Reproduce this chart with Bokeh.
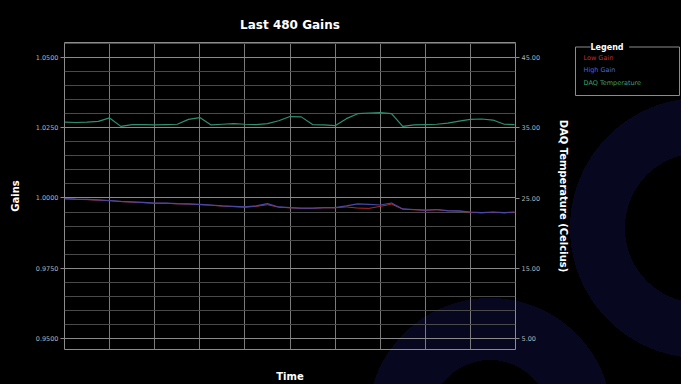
from bokeh.plotting import figure
from bokeh.models import (LinearAxis, Range1d, FixedTicker, PrintfTickFormatter,
                          Label, Row)
from bokeh.embed import file_html
from bokeh.resources import INLINE

# sample index (every 12 samples of the last 480)
samples = [0, 12, 24, 36, 48, 60, 72, 84, 96, 108, 120, 132, 144, 156, 168, 180,
           192, 204, 216, 228, 240, 252, 264, 276, 288, 300, 312, 324, 336, 348,
           360, 372, 384, 396, 408, 420, 432, 444, 456, 468, 479]

high_gain = [0.9998, 0.9996, 0.9995, 0.9993, 0.9991, 0.9988, 0.9986, 0.9984, 0.9982,
             0.9982, 0.9980, 0.9979, 0.9977, 0.9975, 0.9972, 0.9970, 0.9968, 0.9972,
             0.9980, 0.9968, 0.9966, 0.9964, 0.9964, 0.9966, 0.9966, 0.9972, 0.9979,
             0.9977, 0.9975, 0.9982, 0.9961, 0.9959, 0.9957, 0.9959, 0.9955, 0.9954,
             0.9950, 0.9948, 0.9950, 0.9948, 0.9950]

low_gain = [0.9997, 0.9995, 0.9994, 0.9992, 0.9990, 0.9987, 0.9985, 0.9983, 0.9981,
            0.9981, 0.9979, 0.9978, 0.9976, 0.9974, 0.9971, 0.9969, 0.9967, 0.9970,
            0.9976, 0.9967, 0.9965, 0.9963, 0.9963, 0.9965, 0.9965, 0.9968, 0.9964,
            0.9963, 0.9970, 0.9978, 0.9960, 0.9958, 0.9956, 0.9958, 0.9954, 0.9953,
            0.9949, 0.9947, 0.9949, 0.9947, 0.9949]

daq_temp = [35.8, 35.75, 35.8, 35.9, 36.4, 35.2, 35.45, 35.45, 35.4, 35.45, 35.5,
            36.2, 36.45, 35.4, 35.5, 35.6, 35.5, 35.45, 35.6, 36.0, 36.6, 36.55,
            35.45, 35.4, 35.3, 36.3, 37.0, 37.1, 37.15, 37.0, 35.2, 35.4, 35.45,
            35.5, 35.65, 35.95, 36.2, 36.25, 36.1, 35.5, 35.45]

gain_ticks = [0.95, 0.975, 1.0, 1.025, 1.05]
temp_ticks = [5, 15, 25, 35, 45]
time_ticks = [0, 48, 96, 144, 192, 240, 288, 336, 384, 432, 480]

legend_names = ["Low Gain", "High Gain", "DAQ Temperature"]
legend_colors = ["#c03030", "#4a68d0", "#3aa078"]

FONT = "DejaVu Sans"
TICK_GREY = "#b4b4b4"
LINE_GREY = "#8c8c8c"

p = figure(width=572, height=384, output_backend="svg", toolbar_location=None,
           x_range=Range1d(0, 480), y_range=Range1d(0.9461, 1.0553),
           min_border_left=64, min_border_right=56, min_border_top=42,
           min_border_bottom=35)
p.border_fill_color = None
p.background_fill_color = None
p.outline_line_color = LINE_GREY
p.outline_line_width = 1

p.title.text = "Last 480 Gains"
p.title.align = "center"
p.title.text_color = "white"
p.title.text_font = FONT
p.title.text_font_style = "bold"
p.title.text_font_size = "12px"
p.title.standoff = 21

p.extra_y_ranges = {"temp": Range1d(3.43, 47.14)}

# x axis: no ticks, only the title
p.xaxis.ticker = FixedTicker(ticks=[])
p.xaxis.major_tick_line_color = None
p.xaxis.minor_tick_line_color = None
p.xaxis.major_tick_out = 0
p.xaxis.axis_line_color = None
p.xaxis.axis_label = "Time"
p.xaxis.axis_label_text_color = "white"
p.xaxis.axis_label_text_font = FONT
p.xaxis.axis_label_text_font_style = "bold"
p.xaxis.axis_label_text_font_size = "10px"
p.xaxis.axis_label_standoff = 21

# left axis
minor = [round(0.945 + 0.005 * i, 3) for i in range(23)]
p.yaxis.ticker = FixedTicker(ticks=gain_ticks, minor_ticks=minor)
p.yaxis.formatter = PrintfTickFormatter(format="%.4f")
p.yaxis.axis_label = "Gains"

rax = LinearAxis(y_range_name="temp", ticker=FixedTicker(ticks=temp_ticks),
                 formatter=PrintfTickFormatter(format="%.2f"),
                 axis_label="DAQ Temperature (Celcius)")
p.add_layout(rax, "right")

for ax in [p.yaxis[0], rax]:
    ax.axis_line_color = None
    ax.major_tick_line_color = LINE_GREY
    ax.major_tick_out = 4
    ax.major_tick_in = 0
    ax.minor_tick_line_color = None
    ax.major_label_standoff = 2
    ax.major_label_text_color = TICK_GREY
    ax.major_label_text_font = FONT
    ax.major_label_text_font_size = "6.5px"
    ax.axis_label_text_color = "white"
    ax.axis_label_text_font = FONT
    ax.axis_label_text_font_style = "bold"
    ax.axis_label_text_font_size = "10px"
p.yaxis[0].axis_label_standoff = 12
rax.axis_label_standoff = 15

# grids
p.xgrid.ticker = FixedTicker(ticks=time_ticks)
p.xgrid.grid_line_color = "#7a7a7a"
p.ygrid.grid_line_color = "#8a8a8a"
p.ygrid.minor_grid_line_color = "#4a4a4a"

# data lines
p.line(samples, low_gain, line_color="#b02828", line_width=1)
p.line(samples, high_gain, line_color="#4848a8", line_width=1.2)
p.line(samples, daq_temp, line_color="#2f8f72", line_width=1.2, y_range_name="temp")

# legend panel: separate small figure; in the row its frame top lines up with
# the main frame top (42 px), so its coordinates count from there
TOP = 42
H = 384 - TOP
lg = figure(frame_width=109, frame_height=H, output_backend="svg",
            toolbar_location=None, x_range=Range1d(0, 109), y_range=Range1d(0, H),
            x_axis_type=None, y_axis_type=None,
            min_border_left=0, min_border_right=0, min_border_top=0,
            min_border_bottom=0)
lg.border_fill_color = None
lg.background_fill_color = None
lg.outline_line_color = None
lg.grid.visible = False


def ly(page_y):
    return H - (page_y - TOP)


lg.quad(left=[3], right=[107], top=[ly(46.5)], bottom=[ly(95)], fill_color=None,
        line_color=LINE_GREY, line_width=1)
lg.add_layout(Label(x=18, y=ly(46.5), text=" Legend ", text_color="white",
                    text_font=FONT, text_font_style="bold", text_font_size="8px",
                    text_baseline="middle", background_fill_color="#000000"))
for i, (name, col) in enumerate(zip(legend_names, legend_colors)):
    lg.add_layout(Label(x=11, y=ly([57, 69, 82][i]), text=name, text_color=col,
                        text_font=FONT, text_font_size="6.5px",
                        text_baseline="middle"))

layout = Row(children=[p, lg], spacing=0)
layout.styles = {"background":
                 "radial-gradient(circle at 700px 228px, transparent 0 75px, #07081f 75px 130px, transparent 130px),"
                 "radial-gradient(circle at 490px 420px, transparent 0 60px, #07081f 60px 122px, transparent 122px),"
                 "#000000"}

open("out.html", "w").write(file_html(layout, INLINE))
